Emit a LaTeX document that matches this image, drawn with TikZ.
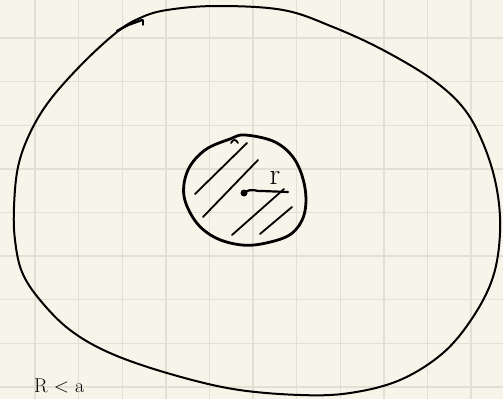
\documentclass[tikz,border=0pt]{standalone}
\usepackage{fontspec}
\begin{document}
\begin{tikzpicture}[x=1pt,y=-1pt,
  pen/.style={draw=black,line width=2pt,line cap=round,line join=round},
  thickpen/.style={draw=black,line width=2.8pt,line cap=round,line join=round},
  hatch/.style={draw=black,line width=1.8pt,line cap=round}]
\definecolor{paper}{HTML}{F7F5EA}
\definecolor{gridc}{HTML}{E2E0D4}
\useasboundingbox (0,0) rectangle (503,399);
\clip (0,0) rectangle (503,399);
\fill[paper] (0,0) rectangle (503,399);
\foreach \i in {0,...,10} {
  \draw[gridc,line width=1.4pt] ({35+43.6*\i},0) -- ({35+43.6*\i},399);
}
\foreach \j in {0,...,8} {
  \draw[gridc,line width=1.4pt] (0,{38+43.6*\j}) -- (503,{38+43.6*\j});
}
% outer region
\draw[pen] plot[smooth cycle,tension=0.6] coordinates {
 (117,32) (83,63) (50,100) (30,133) (18,167) (14,207) (15,240) (22,272)
 (40,300) (70,330) (110,353) (167,373) (233,389) (300,395) (350,393)
 (400,380) (443,353) (473,317) (493,277) (500,233) (497,190) (485,148)
 (465,110) (433,80) (383,50) (333,27) (283,10) (217,6) (167,10) (140,18)};
\draw[pen,line width=2.4pt] (117,31) -- (128,25) -- (142,20);
\draw[pen,line width=1.4pt] (143,20) -- (143,25);
% inner disc
\draw[thickpen] plot[smooth cycle,tension=0.6] coordinates {
 (245,135) (275,142) (295,160) (305,188) (304,215) (291,234) (266,243)
 (242,245) (216,238) (196,222) (184,196) (188,170) (205,150) (230,139)};
\draw[hatch] (231,143) .. controls (233,139) and (236,139) .. (238,143);
% hatching
\draw[hatch] (195,194) -- (247,143);
\draw[hatch] (203,217) -- (258,160);
\draw[hatch] (232,235) -- (284,189);
\draw[hatch] (260,234) -- (292,207);
% centre dot and radius
\fill (244,193) circle (3.5pt);
\coordinate (c) at (244,193);
\coordinate (e) at (288,192);
\draw[thickpen,line width=2.2pt] (c) .. controls (252,187) and (256,192) .. (262,191) -- (e);
\node[font=\fontsize{30}{30}\selectfont,inner sep=0pt] (r) at (275,178) {r};
% bottom caption
\node[anchor=base west,inner sep=0pt,font=\fontsize{20}{20}\selectfont] (cap) at (34,392) {R < a};
\end{tikzpicture}
\end{document}
